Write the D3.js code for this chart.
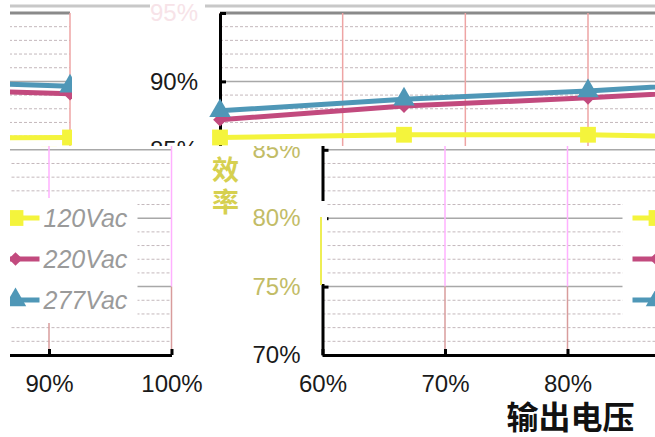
<!DOCTYPE html>
<html>
<head>
<meta charset="utf-8">
<script src="https://cdn.jsdelivr.net/npm/d3@7"></script>
<style>
  html, body { margin: 0; padding: 0; background: #fff; }
  svg { display: block; }
</style>
</head>
<body>
<svg id="chart" width="655" height="437"></svg>
<script>
// Efficiency vs output voltage, three input voltages
const outputLevels = [60, 70, 80, 90, 100];
const eff120 = [85.9, 86.1, 86.1, 85.85, 85.9];
const eff220 = [87.2, 88.2, 88.8, 89.5, 89.1];
const eff277 = [87.85, 88.7, 89.3, 90.1, 89.65];
const seriesNames = ['120Vac', '220Vac', '277Vac'];
const yMajorTicks = [70, 75, 80, 85, 90, 95];
const yMinorTicks = d3.range(70, 96, 1).filter(v => v % 5 !== 0);
const xTitle = '输出电压';
const yTitle = ['效', '率'];

const SERIES = [
    { name: seriesNames[0], values: eff120, color: '#f4f43c', symbol: d3.symbolSquare, size: 250 },
    { name: seriesNames[1], values: eff220, color: '#c24a7e', symbol: d3.symbolDiamond2, size: 120 },
    { name: seriesNames[2], values: eff277, color: '#4f97b7', symbol: d3.symbolTriangle, size: 200 }
];

const PLOT_TOP = 13;
const PLOT_BOTTOM = 355;
const FONT = '"Liberation Sans", Arial, sans-serif';

const svg = d3.select('#chart');
const defs = svg.append('defs');

function addClip(id, x, y, w, h) {
    defs.append('clipPath').attr('id', id)
        .append('rect').attr('x', x).attr('y', y).attr('width', w).attr('height', h);
}

function drawChart(g, cfg) {
    const x = d3.scaleLinear().domain([60, 100]).range([cfg.left, cfg.right]);
    const y = d3.scaleLinear().domain([70, 95]).range([PLOT_BOTTOM, PLOT_TOP]);

    // horizontal grid
    g.append('g').selectAll('line')
        .data(yMinorTicks)
        .join('line')
        .attr('x1', cfg.left).attr('x2', cfg.right)
        .attr('y1', d => y(d)).attr('y2', d => y(d))
        .attr('stroke', '#c4b8bc').attr('stroke-width', 1)
        .attr('stroke-dasharray', '3,2');
    g.append('g').selectAll('line')
        .data(yMajorTicks.filter(d => d > 70 && d < 95))
        .join('line')
        .attr('x1', cfg.left).attr('x2', cfg.right)
        .attr('y1', d => y(d)).attr('y2', d => y(d))
        .attr('stroke', '#a8a8a8').attr('stroke-width', 1.5);

    // top border
    g.append('line')
        .attr('x1', cfg.left).attr('x2', cfg.right)
        .attr('y1', y(95)).attr('y2', y(95))
        .attr('stroke', '#8a8a8a').attr('stroke-width', 3);

    // vertical grid
    const vg = g.append('g').selectAll('g')
        .data(cfg.gridX)
        .join('g');
    vg.append('line')
        .attr('x1', d => x(d)).attr('x2', d => x(d))
        .attr('y1', y(95)).attr('y2', y(75))
        .attr('stroke', cfg.gridUpper).attr('stroke-width', 1.5);
    vg.append('line')
        .attr('x1', d => x(d)).attr('x2', d => x(d))
        .attr('y1', y(75)).attr('y2', y(70))
        .attr('stroke', cfg.gridLower).attr('stroke-width', 1.5);

    // legend box
    const lx = cfg.right - 190;
    const legend = g.append('g');
    legend.append('rect')
        .attr('x', lx).attr('y', 198).attr('width', 156).attr('height', 125)
        .attr('fill', '#fff');
    const items = legend.selectAll('g')
        .data(SERIES)
        .join('g')
        .attr('transform', (d, i) => `translate(${lx},${218 + i * 41})`);
    items.append('line')
        .attr('x1', 10).attr('x2', 58)
        .attr('stroke', d => d.color).attr('stroke-width', 5);
    items.append('path')
        .attr('transform', 'translate(34,0)')
        .attr('d', d => d3.symbol(d.symbol, d.size)())
        .attr('fill', d => d.color);
    items.append('text')
        .attr('x', 62).attr('dy', '0.35em')
        .attr('font-family', FONT).attr('font-size', 25)
        .attr('font-style', 'italic')
        .attr('fill', '#9a9a9a')
        .text(d => d.name);

    // axes
    const yAxis = g.append('g')
        .attr('transform', `translate(${cfg.left},0)`)
        .call(d3.axisLeft(y).tickValues(yMajorTicks).tickSize(-6).tickSizeOuter(0)
            .tickPadding(22).tickFormat(d => d + '%'));
    yAxis.select('.domain').attr('stroke', '#000').attr('stroke-width', 3);
    yAxis.selectAll('.tick line').attr('stroke', '#000').attr('stroke-width', 3);
    yAxis.selectAll('.tick text')
        .attr('font-family', FONT).attr('font-size', 24)
        .attr('fill', d => cfg.yLabelColor(d));

    const xAxis = g.append('g')
        .attr('transform', `translate(0,${PLOT_BOTTOM})`)
        .call(d3.axisBottom(x).tickValues(outputLevels).tickSize(-6).tickSizeOuter(0)
            .tickPadding(20).tickFormat(d => d + '%'));
    xAxis.select('.domain').attr('stroke', '#000').attr('stroke-width', 3);
    xAxis.selectAll('.tick line').attr('stroke', '#000').attr('stroke-width', 3);
    xAxis.selectAll('.tick text')
        .attr('font-family', FONT).attr('font-size', 24).attr('fill', '#1a1a1a');

    // titles
    g.append('text')
        .attr('x', cfg.right - 242).attr('y', 429)
        .attr('text-anchor', 'middle')
        .attr('font-family', '"Noto Sans CJK SC", sans-serif')
        .attr('font-weight', 'bold').attr('font-size', 32)
        .attr('fill', '#111')
        .text(xTitle);
    g.append('text')
        .attr('font-family', '"Noto Sans CJK SC", sans-serif')
        .attr('font-size', 27).attr('font-weight', 'bold')
        .attr('fill', '#d6d050')
        .attr('text-anchor', 'middle')
        .selectAll('tspan')
        .data(yTitle)
        .join('tspan')
        .attr('x', cfg.left - 97)
        .attr('y', (d, i) => 180 + i * 32)
        .text(d => d);

    // data
    const line = d3.line().x((d, i) => x(outputLevels[i])).y(d => y(d));
    g.append('g').selectAll('path')
        .data(SERIES)
        .join('path')
        .attr('d', d => line(d.values))
        .attr('fill', 'none')
        .attr('stroke', d => d.color)
        .attr('stroke-width', 5);
    SERIES.forEach(s => {
        g.append('g').selectAll('path')
            .data(s.values)
            .join('path')
            .attr('transform', (d, i) => `translate(${x(outputLevels[i])},${y(d)})`)
            .attr('d', d3.symbol(s.symbol, s.size)())
            .attr('fill', s.color);
    });
}

// two renders of the same chart, cut into tiles
const wideCfg = {
    left: 220, right: 956,
    gridX: d3.range(7).map(i => 60 + i * 40 / 6),
    gridUpper: '#eea4a4', gridLower: '#eea4a4',
    yLabelColor: d => d === 95 ? '#f7e3e8' : '#1a1a1a'
};
const narrowCfg = {
    left: 322.5, right: 812.5,
    gridX: outputLevels.slice(1),
    gridUpper: '#ffb0ff', gridLower: '#d89c9c',
    yLabelColor: d => d === 70 ? '#1a1a1a' : '#c2bc66'
};

addClip('c-top', 72, 0, 583, 146);
addClip('c-topleft', 10, 0, 62, 146);
addClip('c-bottom', 205, 146, 450, 291);
addClip('c-bottomleft', 10, 146, 195, 291);

drawChart(svg.append('g').attr('clip-path', 'url(#c-top)').append('g'), wideCfg);
drawChart(svg.append('g').attr('clip-path', 'url(#c-topleft)').append('g')
    .attr('transform', 'translate(-886,0)'), wideCfg);
const bottom = svg.append('g').attr('clip-path', 'url(#c-bottom)');
drawChart(bottom.append('g'), narrowCfg);
drawChart(svg.append('g').attr('clip-path', 'url(#c-bottomleft)').append('g')
    .attr('transform', 'translate(-641,0)'), narrowCfg);

// broken stretch of the lower y axis
bottom.append('rect').attr('x', 318).attr('y', 201).attr('width', 9).attr('height', 83).attr('fill', '#fff');
bottom.append('line').attr('x1', 321).attr('x2', 321).attr('y1', 217).attr('y2', 285)
    .attr('stroke', '#eeee55').attr('stroke-width', 2);

// thin rule along the top edge
svg.append('g').selectAll('line')
    .data([[10, 150], [205, 655]])
    .join('line')
    .attr('x1', d => d[0]).attr('x2', d => d[1])
    .attr('y1', 6).attr('y2', 6)
    .attr('stroke', '#c8c8c8').attr('stroke-width', 3);
</script>
</body>
</html>
